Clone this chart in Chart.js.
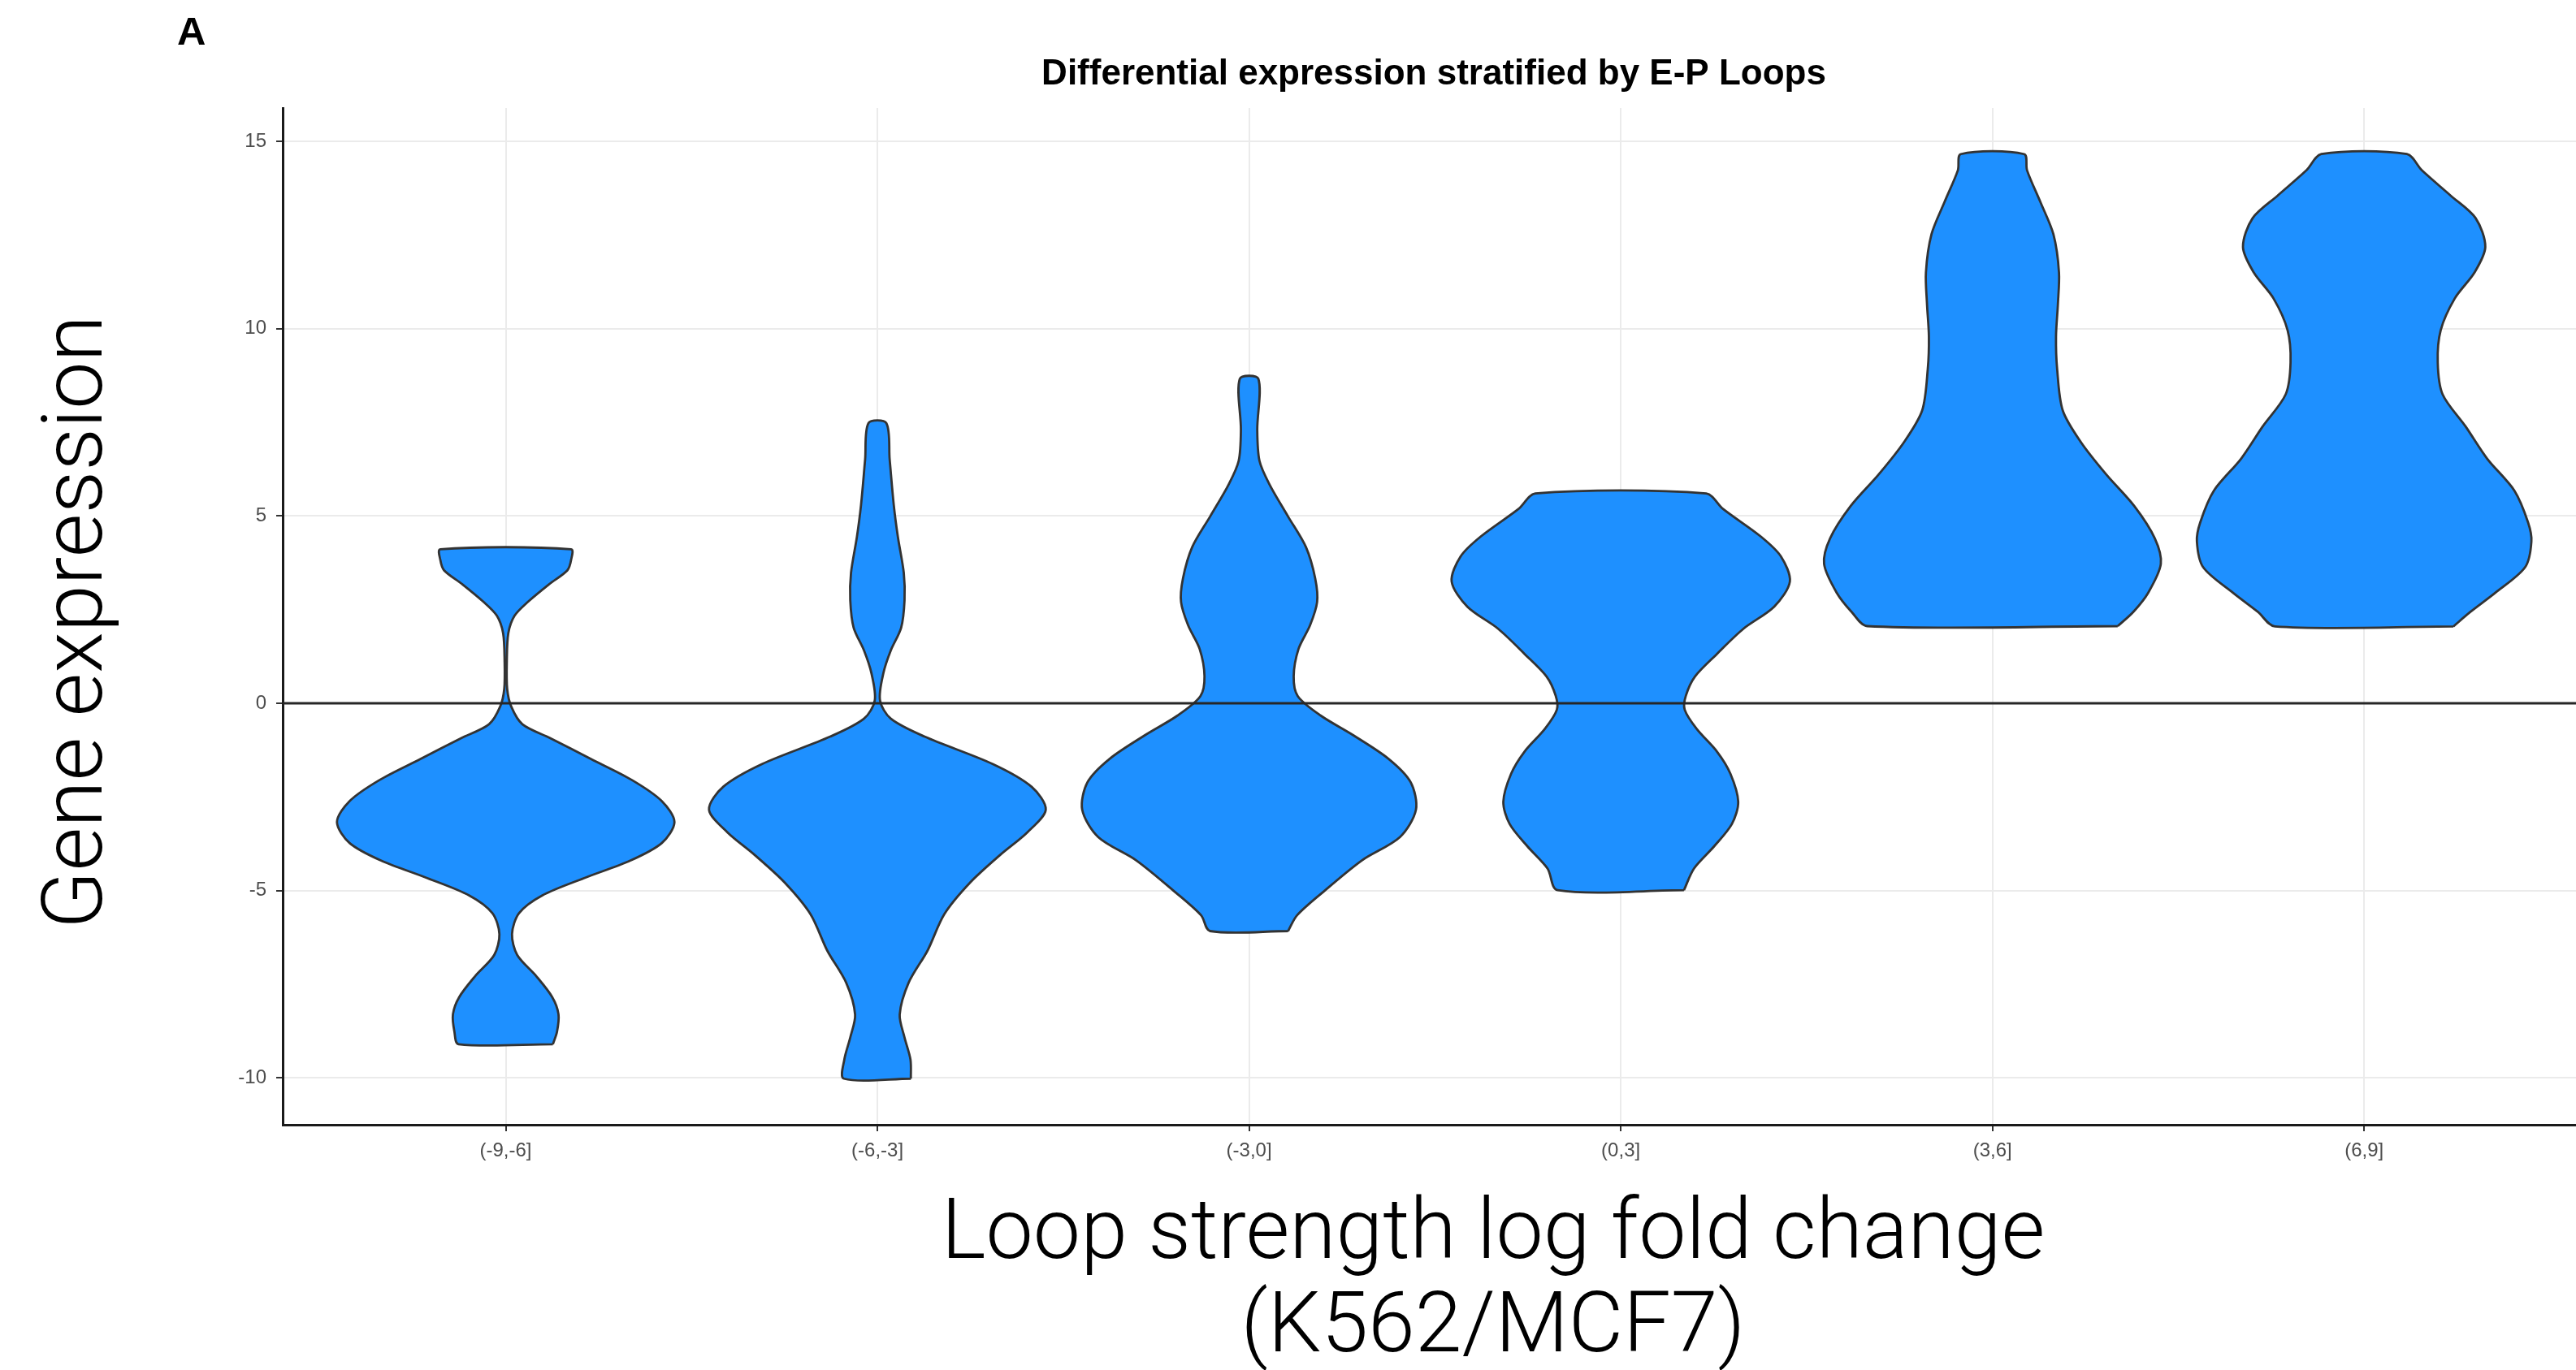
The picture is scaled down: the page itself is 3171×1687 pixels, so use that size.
<!DOCTYPE html>
<html>
<head>
<meta charset="utf-8">
<script src="https://cdn.jsdelivr.net/npm/chart.js@4.4.1/dist/chart.umd.min.js"></script>
<style>
html,body{margin:0;padding:0;background:#ffffff;overflow:hidden}
canvas{display:block}
</style>
</head>
<body>
<canvas id="c" width="3171" height="1687"></canvas>
<script>
// ---------- DATA ----------
const categories = ['(-9,-6]', '(-6,-3]', '(-3,0]', '(0,3]', '(3,6]', '(6,9]'];
const yTicks = [-10, -5, 0, 5, 10, 15];

// violin outlines: y levels (bottom -> top) and half-widths (in category units)
const v1_y = [-9.1, -8.77, -8.3, -7.84, -7.28, -6.72, -6.16, -5.6, -5.13, -4.67, -4.2, -3.73, -3.17, -2.61, -2.05, -1.49, -0.93, -0.56, -0.09, 0.38, 1.12, 1.87, 2.34, 2.71, 3.18, 3.55, 3.83, 4.11];
const v1_w = [0.127, 0.138, 0.142, 0.125, 0.082, 0.031, 0.017, 0.036, 0.098, 0.21, 0.335, 0.42, 0.454, 0.42, 0.34, 0.23, 0.12, 0.045, 0.015, 0.004, 0.003, 0.007, 0.024, 0.06, 0.117, 0.166, 0.176, 0.176];

const v2_y = [-10.02, -9.51, -8.92, -8.31, -7.46, -6.6, -5.63, -4.78, -4.05, -3.44, -2.84, -2.23, -1.62, -0.89, -0.41, 0.08, 0.8, 1.41, 2.02, 2.75, 3.48, 4.45, 5.3, 6.51, 7.48];
const v2_w = [0.09, 0.089, 0.073, 0.06, 0.084, 0.135, 0.18, 0.25, 0.33, 0.404, 0.453, 0.415, 0.31, 0.127, 0.036, 0.007, 0.016, 0.036, 0.064, 0.073, 0.071, 0.055, 0.044, 0.033, 0.024];

const v3_y = [-6.08, -5.66, -5.03, -4.19, -3.57, -2.84, -2.11, -1.48, -0.85, -0.33, 0.19, 0.72, 1.45, 2.08, 2.7, 3.33, 4.17, 5.0, 5.84, 6.47, 7.3, 8.66];
const v3_w = [0.105, 0.129, 0.2, 0.304, 0.406, 0.449, 0.435, 0.375, 0.28, 0.193, 0.131, 0.12, 0.133, 0.164, 0.183, 0.178, 0.153, 0.104, 0.055, 0.028, 0.022, 0.025];

const v4_y = [-4.99, -4.41, -3.82, -3.22, -2.63, -1.88, -1.29, -0.68, -0.17, 0.2, 0.72, 1.32, 1.99, 2.58, 3.25, 3.92, 4.45, 5.19, 5.6];
const v4_w = [0.17, 0.197, 0.251, 0.299, 0.316, 0.295, 0.259, 0.204, 0.172, 0.175, 0.2, 0.259, 0.33, 0.413, 0.455, 0.431, 0.377, 0.275, 0.23];

const v5_y = [2.06, 2.44, 2.95, 3.72, 4.4, 5.26, 6.11, 6.97, 7.82, 8.93, 9.79, 10.64, 11.5, 12.52, 13.38, 14.23, 14.66];
const v5_w = [0.337, 0.379, 0.419, 0.453, 0.437, 0.382, 0.306, 0.238, 0.189, 0.174, 0.171, 0.176, 0.179, 0.164, 0.129, 0.093, 0.085];

const v6_y = [2.05, 2.44, 2.95, 3.63, 4.32, 4.83, 5.68, 6.53, 7.39, 8.25, 9.1, 9.96, 10.81, 11.5, 12.18, 12.95, 13.55, 14.23, 14.66];
const v6_w = [0.24, 0.286, 0.353, 0.433, 0.45, 0.441, 0.404, 0.331, 0.273, 0.211, 0.198, 0.206, 0.244, 0.297, 0.326, 0.3, 0.233, 0.155, 0.115];

const violinY = [v1_y, v2_y, v3_y, v4_y, v5_y, v6_y];
const violinW = [v1_w, v2_w, v3_w, v4_w, v5_w, v6_w];

const PANEL_LABEL = 'A';
const TITLE = 'Differential expression stratified by E-P Loops';
const X_TITLE = ['Loop strength log fold change', '(K562/MCF7)'];
const Y_TITLE = 'Gene expression';

// axis limits (ggplot-style expansion)
const X_MIN = 0.4, X_MAX = 6.57;
const Y_MIN = -11.25, Y_MAX = 15.89;

// ---------- BUILD ----------
function outline(i) {
  const c = i + 1, ys = violinY[i], ws = violinW[i];
  const pts = [];
  for (let k = 0; k < ys.length; k++) pts.push({x: c + ws[k], y: ys[k]});
  for (let k = ys.length - 1; k >= 0; k--) pts.push({x: c - ws[k], y: ys[k]});
  pts.push({x: c + ws[0], y: ys[0]});
  return pts;
}

const datasets = [
  {
    label: 'zero',
    data: [{x: X_MIN, y: 0}, {x: X_MAX, y: 0}],
    showLine: true, fill: false, tension: 0,
    borderColor: '#262626', borderWidth: 2.8, pointRadius: 0, order: 0
  }
].concat(violinY.map((_, i) => ({
  label: categories[i],
  data: outline(i),
  showLine: true,
  fill: 'shape',
  backgroundColor: '#1E90FF',
  borderColor: '#333333',
  borderWidth: 2.8,
  borderJoinStyle: 'round',
  pointRadius: 0,
  tension: 0.3,
  order: 1
})));

const annot = {
  id: 'annot',
  afterDraw(chart) {
    const ctx = chart.ctx;
    ctx.save();
    ctx.fillStyle = '#000000';
    ctx.textBaseline = 'alphabetic';
    ctx.textAlign = 'left';
    ctx.font = 'bold 49px "Liberation Sans"';
    ctx.fillText(PANEL_LABEL, 218, 55);
    ctx.textAlign = 'center';
    ctx.font = 'bold 44px "Liberation Sans"';
    ctx.fillText(TITLE, 1765, 104);
    ctx.font = '300 104px Roboto';
    ctx.fillText(X_TITLE[0], 1838, 1549);
    ctx.fillText(X_TITLE[1], 1838, 1664);
    ctx.translate(125, 766);
    ctx.rotate(-Math.PI / 2);
    ctx.fillText(Y_TITLE, 0, 0);
    ctx.restore();
  }
};

const tickFont = {family: '"Liberation Sans", Arial, sans-serif', size: 24};

function makeChart() {
  new Chart(document.getElementById('c'), {
    type: 'scatter',
    data: {datasets},
    options: {
      responsive: false,
      animation: false,
      devicePixelRatio: 1,
      events: [],
      layout: {padding: {top: 133, left: 0, right: 0, bottom: 0}},
      plugins: {legend: {display: false}, tooltip: {enabled: false}, title: {display: false}},
      scales: {
        x: {
          type: 'linear', min: X_MIN, max: X_MAX,
          afterBuildTicks: s => { s.ticks = categories.map((_, i) => ({value: i + 1})); },
          afterFit: s => { s.height = 302; },
          ticks: {
            callback: v => categories[Math.round(v) - 1],
            font: tickFont, color: '#4d4d4d', padding: 10, maxRotation: 0, autoSkip: false
          },
          grid: {color: '#ebebeb', lineWidth: 2, tickColor: '#333333', tickWidth: 2, tickLength: 8},
          border: {display: true, color: '#1a1a1a', width: 3}
        },
        y: {
          type: 'linear', min: Y_MIN, max: Y_MAX,
          afterBuildTicks: s => { s.ticks = yTicks.map(v => ({value: v})); },
          afterFit: s => { s.width = 348; },
          ticks: {
            callback: v => String(v),
            font: tickFont, color: '#4d4d4d', padding: 12
          },
          grid: {color: '#ebebeb', lineWidth: 2, tickColor: '#333333', tickWidth: 2, tickLength: 8},
          border: {display: true, color: '#1a1a1a', width: 3}
        }
      }
    },
    plugins: [annot]
  });
}

if (document.fonts && document.fonts.load) {
  Promise.all([
    document.fonts.load('300 104px Roboto'),
    document.fonts.load('bold 44px "Liberation Sans"'),
    document.fonts.load('24px "Liberation Sans"')
  ]).then(makeChart, makeChart);
} else {
  makeChart();
}
</script>
</body>
</html>
